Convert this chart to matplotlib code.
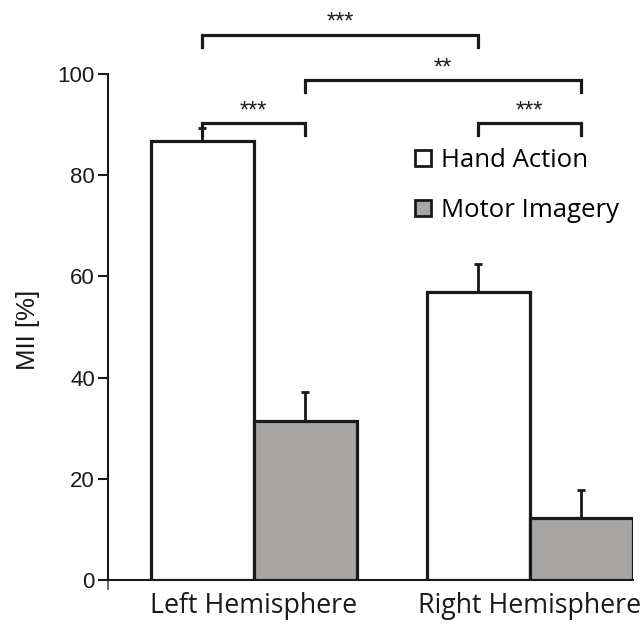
import matplotlib
matplotlib.use("Agg")
import matplotlib.pyplot as plt
from matplotlib.lines import Line2D

# ---- data ----
groups = ["Left Hemisphere", "Right Hemisphere"]
series = ["Hand Action", "Motor Imagery"]
hand_action = [86.8, 56.9]
hand_action_err = [2.6, 5.5]
motor_imagery = [31.4, 12.3]
motor_imagery_err = [5.8, 5.5]
yticks = [0, 20, 40, 60, 80, 100]
# significance brackets: (bar index a, bar index b, level, label)
brackets = [(0, 2, 107.7, "***"), (1, 3, 98.8, "**"),
            (0, 1, 90.3, "***"), (2, 3, 90.3, "***")]

# ---- layout ----
W, H = 642, 624
fig = plt.figure(figsize=(W / 100, H / 100), dpi=100)
AX_L, AX_R, AX_T, AX_B = 108, 632.5, 74, 580
ax = fig.add_axes([AX_L / W, 1 - AX_B / H, (AX_R - AX_L) / W, (AX_B - AX_T) / H])

group_pos = [0.0, 2.68]
bw = 1.0
x_hand = [g - bw / 2 for g in group_pos]
x_motor = [g + bw / 2 for g in group_pos]
bar_x = [x_hand[0], x_motor[0], x_hand[1], x_motor[1]]

ink = "#1a1a1a"
edge_lw = 2.3
gray = "#a8a6a5"
ax.bar(x_hand, hand_action, width=bw, color="white", edgecolor=ink,
       linewidth=edge_lw, zorder=3)
ax.bar(x_motor, motor_imagery, width=bw, color=gray, edgecolor=ink,
       linewidth=edge_lw, zorder=3)
ax.errorbar(x_hand, hand_action, yerr=[[0, 0], hand_action_err], fmt="none",
            ecolor=ink, elinewidth=2.0, capsize=3, capthick=2.0, zorder=2)
ax.errorbar(x_motor, motor_imagery, yerr=[[0, 0], motor_imagery_err], fmt="none",
            ecolor=ink, elinewidth=2.0, capsize=3, capthick=2.0, zorder=2)

xmin, xmax = -1.413, 3.68
ax.set_xlim(xmin, xmax)
ax.set_ylim(0, 100)

# brackets
leg = 2.4
for a, b, lvl, lab in brackets:
    xa, xb = bar_x[a], bar_x[b]
    ax.plot([xa, xa, xb, xb], [lvl - leg, lvl, lvl, lvl - leg], color=ink,
            lw=2.3, clip_on=False, solid_joinstyle="miter", zorder=4)
    ax.text((xa + xb) / 2, lvl + 0.2, lab, ha="center", va="bottom",
            fontsize=17, family="Liberation Sans", color=ink)

# axes styling
for s in ["top", "right"]:
    ax.spines[s].set_visible(False)
for s in ["left", "bottom"]:
    ax.spines[s].set_linewidth(1.5)
    ax.spines[s].set_color(ink)

ax.set_yticks(yticks)
ax.set_yticklabels([str(v) for v in yticks], family="Liberation Sans", fontsize=16)
ax.tick_params(axis="y", direction="out", length=7, width=1.5, pad=2.5, colors=ink)
ax.set_xticks(group_pos)
ax.set_xticklabels(groups, family="Open Sans", fontsize=19.3)
ax.tick_params(axis="x", which="major", length=0, pad=9, colors=ink)
ax.set_xticks([xmin], minor=True)
ax.tick_params(axis="x", which="minor", length=7, width=1.2, direction="out", colors="#555555")

fig.text(28 / W, 1 - 330 / H, "MII [%]", rotation=90, ha="center", va="center",
         family="Liberation Sans", fontsize=18.5, color=ink)

# legend
handles = [Line2D([], [], marker="s", linestyle="none", markersize=11.5,
                  markerfacecolor="white", markeredgecolor=ink, markeredgewidth=2),
           Line2D([], [], marker="s", linestyle="none", markersize=11.5,
                  markerfacecolor=gray, markeredgecolor=ink, markeredgewidth=2)]
legend = fig.legend(handles, series, loc="upper left",
                    bbox_to_anchor=(413 / W, 1 - 148 / H),
                    frameon=False, prop={"family": "Open Sans", "size": 18.5},
                    handlelength=0.8, handletextpad=0.3, labelspacing=0.97,
                    borderpad=0, borderaxespad=0)

fig.savefig("out.png", dpi=100, facecolor="white")
